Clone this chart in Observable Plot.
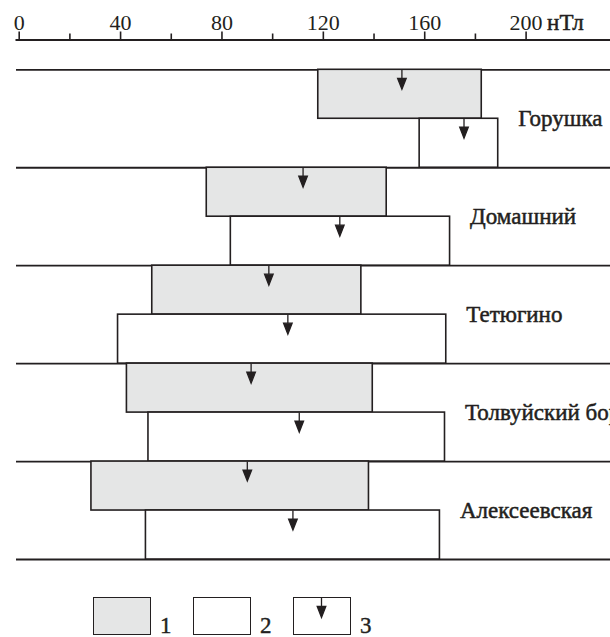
<!DOCTYPE html>
<html><head><meta charset="utf-8">
<script src="https://cdn.jsdelivr.net/npm/d3@7"></script>
<script src="https://cdn.jsdelivr.net/npm/@observablehq/plot@0.6"></script>
<style>
body{margin:0;background:#fff;font-family:"Liberation Serif","Times New Roman",serif;color:#231f20;}
#wrap{position:relative;width:610px;height:637px;}
#legend{position:absolute;top:597px;left:93px;display:flex;}
.item{display:flex;align-items:flex-end;width:100px;}
.sw{width:58px;height:38px;box-sizing:border-box;border:1.6px solid #231f20;background:#fff;position:relative;}
.sw.g{background:#e5e6e6;}
.sw svg{position:absolute;left:0;top:0;}
.lab{font-family:"Liberation Serif",serif;font-size:23px;line-height:0.8;margin-left:9px;margin-bottom:0;-webkit-text-stroke:0.4px #231f20;}
</style></head><body>
<div id="wrap"><div id="chart"></div><div id="legend"></div></div>
<script>
// Stations (top to bottom)
const stations = ["Горушка", "Домашний", "Тетюгино", "Толвуйский бор", "Алексеевская"];
// Series 1 (grey boxes): range and mean (arrow), nT
const lo1    = [118, 74, 52.5, 42.5, 28.5];
const hi1    = [182.5, 145, 135, 139.5, 138];
const arrow1 = [151, 112, 98.5, 91.5, 90];
// Series 2 (open boxes): range and mean (arrow), nT
const lo2    = [158, 83.5, 39, 51, 50];
const hi2    = [189, 170, 168.5, 168, 166];
const arrow2 = [175.5, 126.5, 106, 110.5, 108];
// Axis ticks
const majorTicks = [0, 40, 80, 120, 160, 200];
const minorTicks = [20, 60, 100, 140, 180];
const unitLabel = "нТл";
const legendLabels = ["1", "2", "3"];

const ink = "#231f20";
const grey = "#e5e6e6";
const serif = "'Liberation Serif','Times New Roman',serif";

const boxes = [];
stations.forEach((s, i) => {
  boxes.push({station: s, kind: 1, lo: lo1[i], hi: hi1[i], arrow: arrow1[i], y1: 2 * i, y2: 2 * i + 1});
  boxes.push({station: s, kind: 2, lo: lo2[i], hi: hi2[i], arrow: arrow2[i], y1: 2 * i + 1, y2: 2 * i + 2});
});
const rows = stations.map((s, i) => ({station: s, mid: 2 * i + 1, right: Math.max(hi1[i], hi2[i])}));
const separators = d3.range(0, 2 * stations.length + 1, 2);

// Arrow glyph: short stem with a filled arrowhead, tip pointing down
const arrowSymbol = {
  draw(ctx) {
    ctx.moveTo(0, 0); ctx.lineTo(0, 9);
    ctx.moveTo(-4.3, 8.5); ctx.lineTo(4.3, 8.5); ctx.lineTo(0, 19.5); ctx.closePath();
  }
};

const chart = Plot.plot({
  width: 610,
  height: 585,
  marginTop: 39.5,
  marginLeft: 16,
  marginRight: 0,
  marginBottom: 20,
  style: {fontFamily: serif, color: ink, background: "#fff"},
  x: {domain: [0, 233.3], range: [18.7, 610], axis: null},
  y: {domain: [0, 10], range: [69.3, 559], axis: null},
  marks: [
    Plot.ruleY(separators, {y: d => d, stroke: ink, strokeWidth: 1.8}),
    Plot.rectX(boxes, {x1: "lo", x2: "hi", y1: "y1", y2: "y2", fill: d => d.kind === 1 ? grey : "#fff", stroke: ink, strokeWidth: 1.6}),
    Plot.dot(boxes, {x: "arrow", y: "y1", symbol: arrowSymbol, fill: ink, stroke: ink, strokeWidth: 1.3}),
    Plot.text(rows, {x: "right", y: "mid", text: "station", textAnchor: "start", dx: 20, dy: 0, fontSize: 23, fontFamily: serif, fill: ink, stroke: ink, strokeWidth: 0.5}),
    Plot.frame({anchor: "top", stroke: ink, strokeWidth: 2}),
    Plot.axisX(majorTicks, {anchor: "top", tickSize: 9, tickPadding: 1, fontSize: 22, fontFamily: serif, stroke: ink, fill: ink, strokeWidth: 1.6, tickFormat: d => String(d)}),
    Plot.axisX(minorTicks, {anchor: "top", tickSize: 7, strokeWidth: 1.6, stroke: ink, tickFormat: () => ""}),
    Plot.text([200], {x: d => d, frameAnchor: "top", text: () => unitLabel, textAnchor: "start", lineAnchor: "bottom", dx: 21, dy: -10, fontSize: 23, fontFamily: serif, fill: ink, stroke: ink, strokeWidth: 0.5})
  ]
});
document.getElementById("chart").appendChild(chart);

// Legend below the chart
const legend = document.getElementById("legend");
legendLabels.forEach((lab, k) => {
  const item = document.createElement("div"); item.className = "item";
  const sw = document.createElement("div"); sw.className = "sw" + (k === 0 ? " g" : "");
  if (k === 2) {
    sw.innerHTML = '<svg width="55" height="35"><path d="M27.5,0V9M23.2,8.5H31.8L27.5,19.5Z" fill="' + ink + '" stroke="' + ink + '" stroke-width="1.3"/></svg>';
  }
  const t = document.createElement("span"); t.className = "lab"; t.textContent = lab;
  item.appendChild(sw); item.appendChild(t); legend.appendChild(item);
});
</script>
</body></html>
